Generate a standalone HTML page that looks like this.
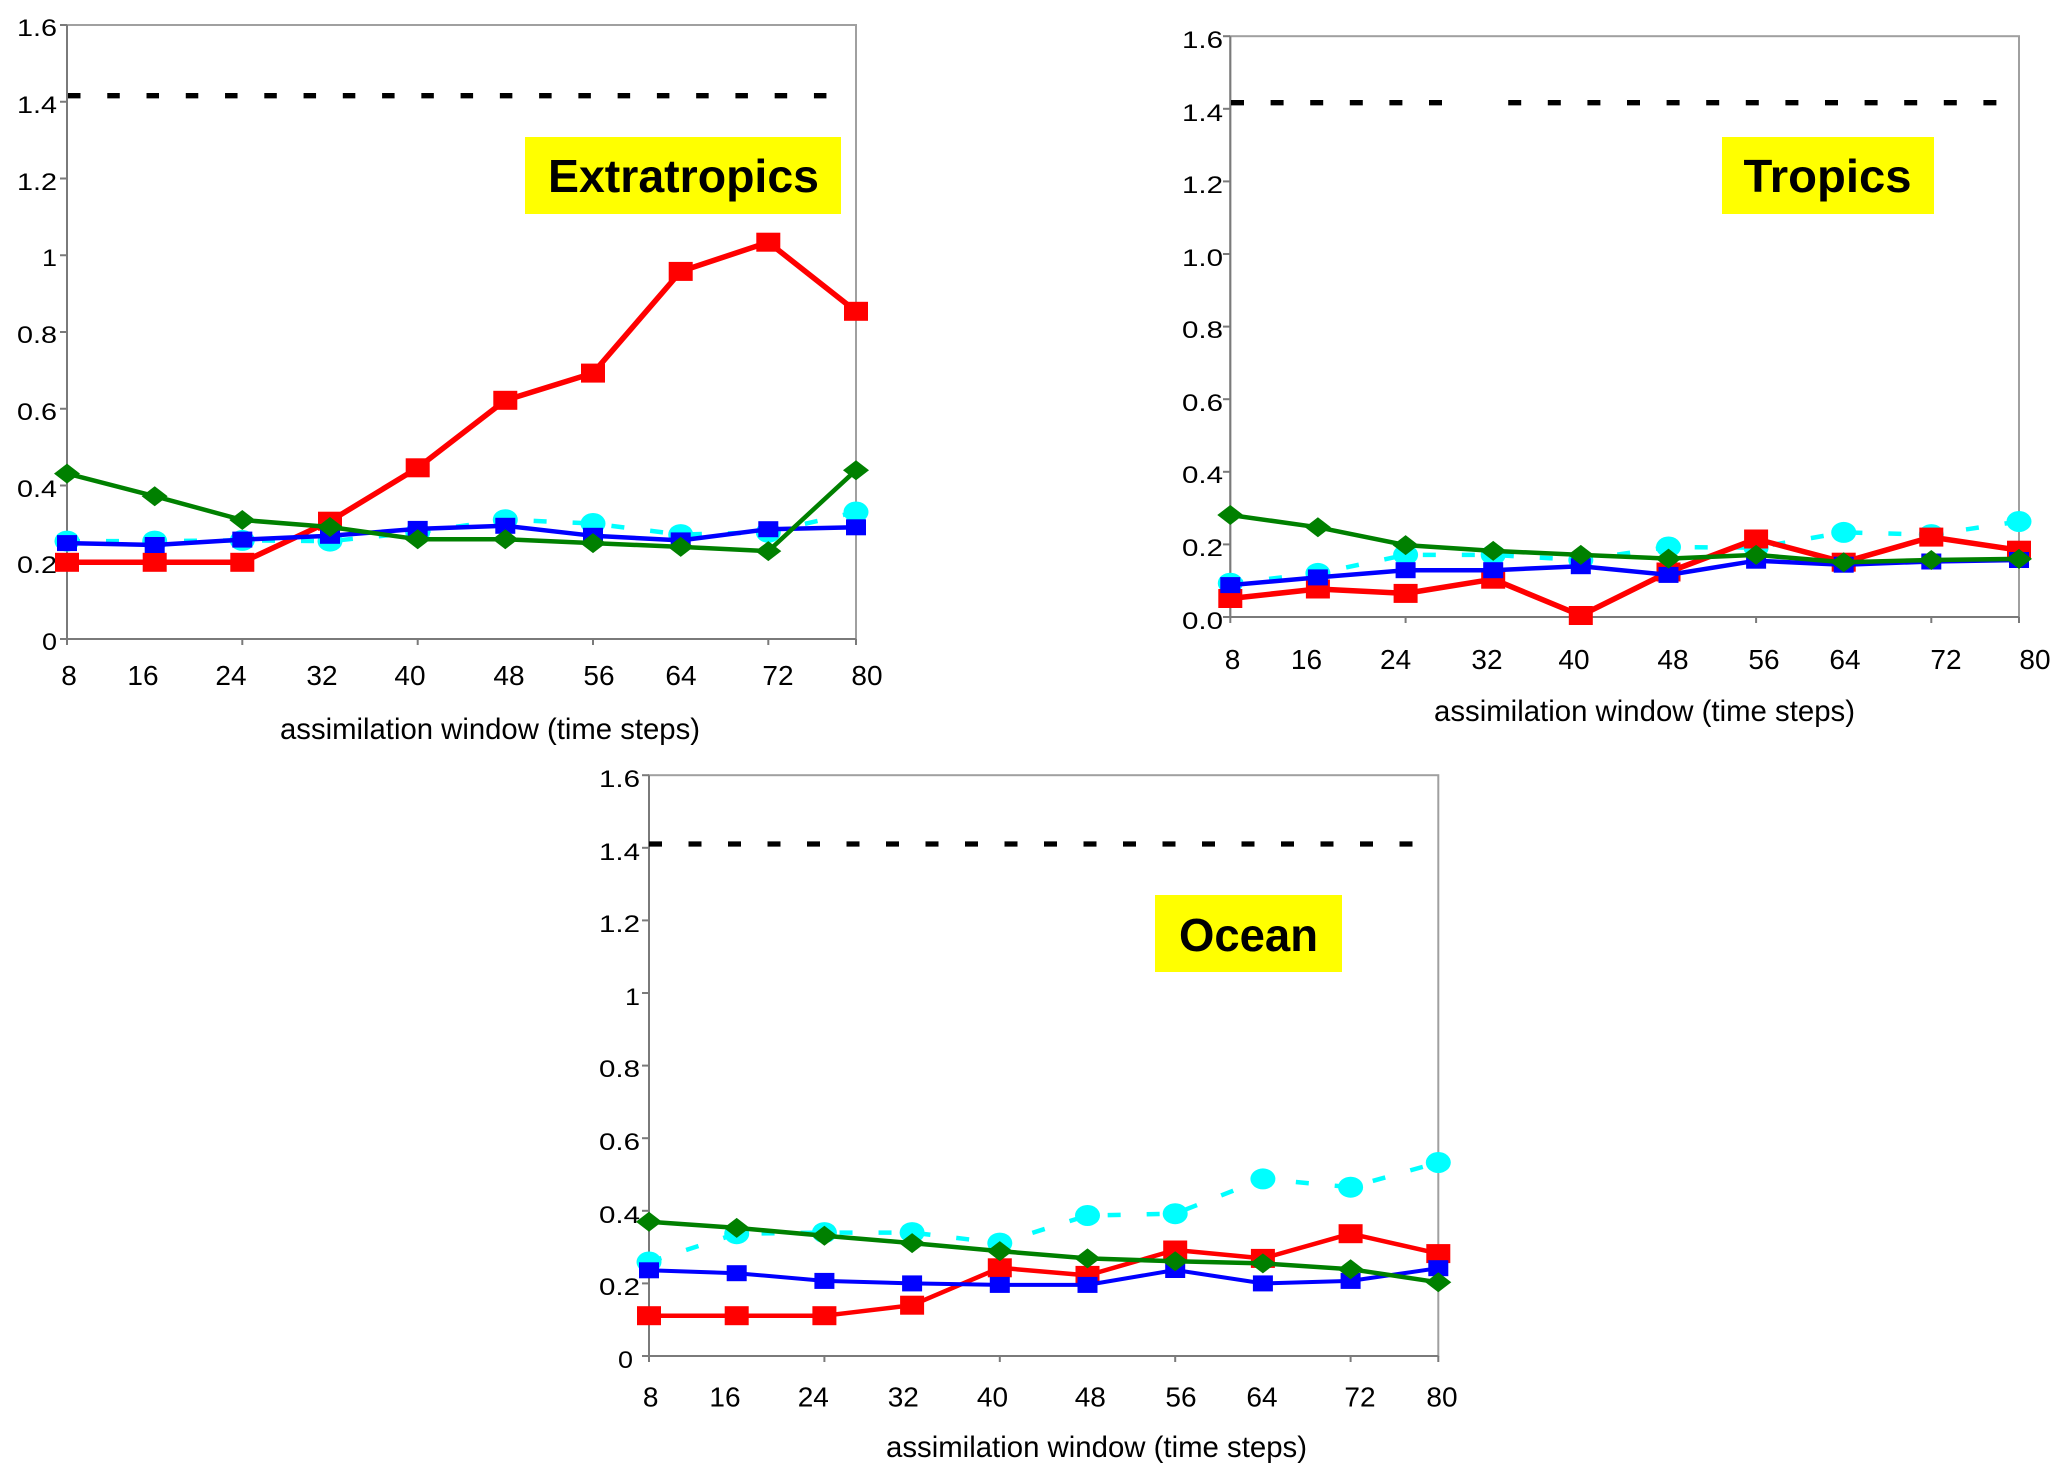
<!DOCTYPE html>
<html><head><meta charset="utf-8"><style>
html,body{margin:0;padding:0;background:#fff;}
svg{display:block;}
text{font-family:"Liberation Sans",Arial,sans-serif;fill:#000;}
</style></head><body>
<svg width="2067" height="1482" viewBox="0 0 2067 1482" xmlns="http://www.w3.org/2000/svg">
<defs>
<rect id="rs" x="-12" y="-9.5" width="24" height="19" fill="#ff0000"/>
<rect id="bs" x="-10" y="-8" width="20" height="16" fill="#0000ff"/>
<polygon id="gd" points="0,-10 13,0 0,10 -13,0" fill="#008000"/>
<ellipse id="cc" rx="12.5" ry="10.5" fill="#00ffff"/>
</defs>
<rect width="2067" height="1482" fill="#fff"/>

<!-- ================= PANEL 1: Extratropics ================= -->
<g>
<rect x="67" y="25" width="789" height="614" fill="none" stroke="#a0a0a0" stroke-width="2"/>
<line x1="67" y1="25" x2="67" y2="639" stroke="#7a7a7a" stroke-width="2"/>
<line x1="67" y1="639" x2="856" y2="639" stroke="#7a7a7a" stroke-width="2"/>
<g stroke="#7a7a7a" stroke-width="2">
<line x1="60" y1="25" x2="67" y2="25"/><line x1="60" y1="101.75" x2="67" y2="101.75"/><line x1="60" y1="178.5" x2="67" y2="178.5"/><line x1="60" y1="255.25" x2="67" y2="255.25"/><line x1="60" y1="332" x2="67" y2="332"/><line x1="60" y1="408.75" x2="67" y2="408.75"/><line x1="60" y1="485.5" x2="67" y2="485.5"/><line x1="60" y1="562.25" x2="67" y2="562.25"/><line x1="60" y1="639" x2="67" y2="639"/>
<line x1="67" y1="639" x2="67" y2="645"/><line x1="242.3" y1="639" x2="242.3" y2="645"/><line x1="417.7" y1="639" x2="417.7" y2="645"/><line x1="593" y1="639" x2="593" y2="645"/><line x1="768.3" y1="639" x2="768.3" y2="645"/><line x1="856" y1="639" x2="856" y2="645"/>
</g>
<g font-size="24">
<text x="17" y="36" textLength="40" lengthAdjust="spacingAndGlyphs">1.6</text>
<text x="17" y="113" textLength="40" lengthAdjust="spacingAndGlyphs">1.4</text>
<text x="17" y="190" textLength="40" lengthAdjust="spacingAndGlyphs">1.2</text>
<text x="42" y="266" textLength="15" lengthAdjust="spacingAndGlyphs">1</text>
<text x="17" y="343" textLength="40" lengthAdjust="spacingAndGlyphs">0.8</text>
<text x="17" y="420" textLength="40" lengthAdjust="spacingAndGlyphs">0.6</text>
<text x="17" y="497" textLength="40" lengthAdjust="spacingAndGlyphs">0.4</text>
<text x="17" y="573" textLength="40" lengthAdjust="spacingAndGlyphs">0.2</text>
<text x="42" y="650" textLength="15" lengthAdjust="spacingAndGlyphs">0</text>
</g>
<g font-size="28" text-anchor="middle">
<text x="69" y="685">8</text><text x="143" y="685">16</text><text x="231" y="685">24</text><text x="322" y="685">32</text><text x="410" y="685">40</text><text x="509" y="685">48</text><text x="599" y="685">56</text><text x="681" y="685">64</text><text x="778" y="685">72</text><text x="867" y="685">80</text>
</g>
<text x="280" y="739" font-size="30" textLength="420" lengthAdjust="spacingAndGlyphs">assimilation window (time steps)</text>
<line x1="68" y1="95.7" x2="832" y2="95.7" stroke="#000" stroke-width="5.3" stroke-dasharray="12.5 26.76"/>
<rect x="525" y="137" width="316" height="77" fill="#ffff00"/>
<text x="548" y="192" font-size="46" font-weight="bold" textLength="271" lengthAdjust="spacingAndGlyphs">Extratropics</text>

<polyline fill="none" stroke="#00ffff" stroke-width="4.5" stroke-dasharray="13 26" points="67,541.1 154.7,541.1 242.3,540.4 330,541.1 417.7,532.3 505.3,519.7 593,523.5 680.7,534.6 768.3,532.3 856,512"/>
<use href="#cc" x="67" y="541.1"/><use href="#cc" x="154.7" y="541.1"/><use href="#cc" x="242.3" y="540.4"/><use href="#cc" x="330" y="541.1"/><use href="#cc" x="417.7" y="532.3"/><use href="#cc" x="505.3" y="519.7"/><use href="#cc" x="593" y="523.5"/><use href="#cc" x="680.7" y="534.6"/><use href="#cc" x="768.3" y="532.3"/><use href="#cc" x="856" y="512"/>

<polyline fill="none" stroke="#ff0000" stroke-width="5.5" stroke-linejoin="round" points="67,562.3 154.7,562.3 242.3,562.3 330,521.2 417.7,467.8 505.3,400.3 593,373.1 680.7,271.4 768.3,242.2 856,311.3"/>
<use href="#rs" x="67" y="562.3"/><use href="#rs" x="154.7" y="562.3"/><use href="#rs" x="242.3" y="562.3"/><use href="#rs" x="330" y="521.2"/><use href="#rs" x="417.7" y="467.8"/><use href="#rs" x="505.3" y="400.3"/><use href="#rs" x="593" y="373.1"/><use href="#rs" x="680.7" y="271.4"/><use href="#rs" x="768.3" y="242.2"/><use href="#rs" x="856" y="311.3"/>

<polyline fill="none" stroke="#0000ff" stroke-width="4.5" stroke-linejoin="round" points="67,543.1 154.7,545 242.3,539.6 330,535.8 417.7,528.9 505.3,525.8 593,535.8 680.7,540.4 768.3,529.2 856,527.3"/>
<use href="#bs" x="67" y="543.1"/><use href="#bs" x="154.7" y="545"/><use href="#bs" x="242.3" y="539.6"/><use href="#bs" x="330" y="535.8"/><use href="#bs" x="417.7" y="528.9"/><use href="#bs" x="505.3" y="525.8"/><use href="#bs" x="593" y="535.8"/><use href="#bs" x="680.7" y="540.4"/><use href="#bs" x="768.3" y="529.2"/><use href="#bs" x="856" y="527.3"/>

<polyline fill="none" stroke="#008000" stroke-width="4.5" stroke-linejoin="round" points="67,473.6 154.7,496.2 242.3,520 330,527 417.7,539.2 505.3,539.2 593,543.1 680.7,546.9 768.3,551.1 856,470.2"/>
<use href="#gd" x="67" y="473.6"/><use href="#gd" x="154.7" y="496.2"/><use href="#gd" x="242.3" y="520"/><use href="#gd" x="330" y="527"/><use href="#gd" x="417.7" y="539.2"/><use href="#gd" x="505.3" y="539.2"/><use href="#gd" x="593" y="543.1"/><use href="#gd" x="680.7" y="546.9"/><use href="#gd" x="768.3" y="551.1"/><use href="#gd" x="856" y="470.2"/>
</g>

<!-- ================= PANEL 2: Tropics ================= -->
<g>
<rect x="1230.3" y="36.2" width="788.7" height="580.8" fill="none" stroke="#a0a0a0" stroke-width="2"/>
<line x1="1230.3" y1="36.2" x2="1230.3" y2="617" stroke="#7a7a7a" stroke-width="2"/>
<line x1="1230.3" y1="617" x2="2019" y2="617" stroke="#7a7a7a" stroke-width="2"/>
<g stroke="#7a7a7a" stroke-width="2">
<line x1="1223" y1="36.2" x2="1230" y2="36.2"/><line x1="1223" y1="108.8" x2="1230" y2="108.8"/><line x1="1223" y1="181.4" x2="1230" y2="181.4"/><line x1="1223" y1="254" x2="1230" y2="254"/><line x1="1223" y1="326.6" x2="1230" y2="326.6"/><line x1="1223" y1="399.2" x2="1230" y2="399.2"/><line x1="1223" y1="471.8" x2="1230" y2="471.8"/><line x1="1223" y1="544.4" x2="1230" y2="544.4"/><line x1="1223" y1="617" x2="1230" y2="617"/>
<line x1="1230.3" y1="617" x2="1230.3" y2="623"/><line x1="1405.6" y1="617" x2="1405.6" y2="623"/><line x1="1580.8" y1="617" x2="1580.8" y2="623"/><line x1="1756.1" y1="617" x2="1756.1" y2="623"/><line x1="1931.3" y1="617" x2="1931.3" y2="623"/><line x1="2019" y1="617" x2="2019" y2="623"/>
</g>
<g font-size="24">
<text x="1182" y="48" textLength="41" lengthAdjust="spacingAndGlyphs">1.6</text>
<text x="1182" y="121" textLength="41" lengthAdjust="spacingAndGlyphs">1.4</text>
<text x="1182" y="193" textLength="41" lengthAdjust="spacingAndGlyphs">1.2</text>
<text x="1182" y="266" textLength="41" lengthAdjust="spacingAndGlyphs">1.0</text>
<text x="1182" y="338" textLength="41" lengthAdjust="spacingAndGlyphs">0.8</text>
<text x="1182" y="411" textLength="41" lengthAdjust="spacingAndGlyphs">0.6</text>
<text x="1182" y="483" textLength="41" lengthAdjust="spacingAndGlyphs">0.4</text>
<text x="1182" y="556" textLength="41" lengthAdjust="spacingAndGlyphs">0.2</text>
<text x="1182" y="629" textLength="41" lengthAdjust="spacingAndGlyphs">0.0</text>
</g>
<g font-size="28" text-anchor="middle">
<text x="1232.5" y="669">8</text><text x="1306.5" y="669">16</text><text x="1395.6" y="669">24</text><text x="1487" y="669">32</text><text x="1574" y="669">40</text><text x="1673" y="669">48</text><text x="1764" y="669">56</text><text x="1845" y="669">64</text><text x="1946" y="669">72</text><text x="2035" y="669">80</text>
</g>
<text x="1434" y="721" font-size="30" textLength="421" lengthAdjust="spacingAndGlyphs">assimilation window (time steps)</text>
<line x1="1231" y1="102.7" x2="1450" y2="102.7" stroke="#000" stroke-width="5.3" stroke-dasharray="13 26.6"/>
<line x1="1508.2" y1="102.7" x2="1998" y2="102.7" stroke="#000" stroke-width="5.3" stroke-dasharray="13 26.6"/>
<rect x="1722" y="137" width="212" height="77" fill="#ffff00"/>
<text x="1743.5" y="192" font-size="46" font-weight="bold" textLength="168" lengthAdjust="spacingAndGlyphs">Tropics</text>

<polyline fill="none" stroke="#00ffff" stroke-width="4.5" stroke-dasharray="13 26" points="1230.3,583.2 1317.9,573.4 1405.6,554.9 1493.2,554.9 1580.8,560 1668.5,547 1756.1,547.7 1843.7,532.4 1931.3,534.6 2019,521.5"/>
<use href="#cc" x="1230.3" y="583.2"/><use href="#cc" x="1317.9" y="573.4"/><use href="#cc" x="1405.6" y="554.9"/><use href="#cc" x="1493.2" y="554.9"/><use href="#cc" x="1580.8" y="560"/><use href="#cc" x="1668.5" y="547"/><use href="#cc" x="1756.1" y="547.7"/><use href="#cc" x="1843.7" y="532.4"/><use href="#cc" x="1931.3" y="534.6"/><use href="#cc" x="2019" y="521.5"/>

<polyline fill="none" stroke="#ff0000" stroke-width="5.5" stroke-linejoin="round" points="1230.3,598.5 1317.9,589 1405.6,593.4 1493.2,579.2 1580.8,615.5 1668.5,572 1756.1,539 1843.7,562.2 1931.3,537.1 2019,550.2"/>
<use href="#rs" x="1230.3" y="598.5"/><use href="#rs" x="1317.9" y="589"/><use href="#rs" x="1405.6" y="593.4"/><use href="#rs" x="1493.2" y="579.2"/><use href="#rs" x="1580.8" y="615.5"/><use href="#rs" x="1668.5" y="572"/><use href="#rs" x="1756.1" y="539"/><use href="#rs" x="1843.7" y="562.2"/><use href="#rs" x="1931.3" y="537.1"/><use href="#rs" x="2019" y="550.2"/>

<polyline fill="none" stroke="#0000ff" stroke-width="4.5" stroke-linejoin="round" points="1230.3,585.1 1317.9,577.4 1405.6,570.2 1493.2,570.2 1580.8,566.2 1668.5,574.9 1756.1,560.7 1843.7,564.7 1931.3,561.5 2019,560"/>
<use href="#bs" x="1230.3" y="585.1"/><use href="#bs" x="1317.9" y="577.4"/><use href="#bs" x="1405.6" y="570.2"/><use href="#bs" x="1493.2" y="570.2"/><use href="#bs" x="1580.8" y="566.2"/><use href="#bs" x="1668.5" y="574.9"/><use href="#bs" x="1756.1" y="560.7"/><use href="#bs" x="1843.7" y="564.7"/><use href="#bs" x="1931.3" y="561.5"/><use href="#bs" x="2019" y="560"/>

<polyline fill="none" stroke="#008000" stroke-width="4.5" stroke-linejoin="round" points="1230.3,515 1317.9,527.3 1405.6,545.1 1493.2,550.9 1580.8,554.9 1668.5,558.6 1756.1,554.9 1843.7,562.2 1931.3,560 2019,558.9"/>
<use href="#gd" x="1230.3" y="515"/><use href="#gd" x="1317.9" y="527.3"/><use href="#gd" x="1405.6" y="545.1"/><use href="#gd" x="1493.2" y="550.9"/><use href="#gd" x="1580.8" y="554.9"/><use href="#gd" x="1668.5" y="558.6"/><use href="#gd" x="1756.1" y="554.9"/><use href="#gd" x="1843.7" y="562.2"/><use href="#gd" x="1931.3" y="560"/><use href="#gd" x="2019" y="558.9"/>
</g>

<!-- ================= PANEL 3: Ocean ================= -->
<g>
<rect x="649" y="775.2" width="789.3" height="580.8" fill="none" stroke="#a0a0a0" stroke-width="2"/>
<line x1="649" y1="775.2" x2="649" y2="1356" stroke="#7a7a7a" stroke-width="2"/>
<line x1="649" y1="1356" x2="1438.3" y2="1356" stroke="#7a7a7a" stroke-width="2"/>
<g stroke="#7a7a7a" stroke-width="2">
<line x1="642" y1="775.2" x2="649" y2="775.2"/><line x1="642" y1="847.8" x2="649" y2="847.8"/><line x1="642" y1="920.4" x2="649" y2="920.4"/><line x1="642" y1="993" x2="649" y2="993"/><line x1="642" y1="1065.6" x2="649" y2="1065.6"/><line x1="642" y1="1138.2" x2="649" y2="1138.2"/><line x1="642" y1="1210.8" x2="649" y2="1210.8"/><line x1="642" y1="1283.4" x2="649" y2="1283.4"/><line x1="642" y1="1356" x2="649" y2="1356"/>
<line x1="649" y1="1356" x2="649" y2="1362"/><line x1="824.4" y1="1356" x2="824.4" y2="1362"/><line x1="999.8" y1="1356" x2="999.8" y2="1362"/><line x1="1175.2" y1="1356" x2="1175.2" y2="1362"/><line x1="1350.6" y1="1356" x2="1350.6" y2="1362"/><line x1="1438.3" y1="1356" x2="1438.3" y2="1362"/>
</g>
<g font-size="24">
<text x="599" y="787" textLength="41" lengthAdjust="spacingAndGlyphs">1.6</text>
<text x="599" y="860" textLength="41" lengthAdjust="spacingAndGlyphs">1.4</text>
<text x="599" y="932" textLength="41" lengthAdjust="spacingAndGlyphs">1.2</text>
<text x="625" y="1005" textLength="15" lengthAdjust="spacingAndGlyphs">1</text>
<text x="599" y="1077" textLength="41" lengthAdjust="spacingAndGlyphs">0.8</text>
<text x="599" y="1150" textLength="41" lengthAdjust="spacingAndGlyphs">0.6</text>
<text x="599" y="1223" textLength="41" lengthAdjust="spacingAndGlyphs">0.4</text>
<text x="599" y="1295" textLength="41" lengthAdjust="spacingAndGlyphs">0.2</text>
<text x="618" y="1368" textLength="15" lengthAdjust="spacingAndGlyphs">0</text>
</g>
<g font-size="28" text-anchor="middle">
<text x="650.7" y="1406.5">8</text><text x="725" y="1406.5">16</text><text x="813.3" y="1406.5">24</text><text x="903.3" y="1406.5">32</text><text x="992.5" y="1406.5">40</text><text x="1090.3" y="1406.5">48</text><text x="1181" y="1406.5">56</text><text x="1262" y="1406.5">64</text><text x="1360" y="1406.5">72</text><text x="1442" y="1406.5">80</text>
</g>
<text x="886" y="1457" font-size="30" textLength="421" lengthAdjust="spacingAndGlyphs">assimilation window (time steps)</text>
<line x1="649" y1="844" x2="1415" y2="844" stroke="#000" stroke-width="5.3" stroke-dasharray="13 26.5"/>
<rect x="1155" y="895" width="187" height="77" fill="#ffff00"/>
<text x="1179" y="951" font-size="46" font-weight="bold" textLength="139" lengthAdjust="spacingAndGlyphs">Ocean</text>

<polyline fill="none" stroke="#00ffff" stroke-width="4.5" stroke-dasharray="13 26" points="649,1262 736.7,1233.7 824.4,1232.6 912.1,1232.6 999.8,1243.1 1087.5,1215.5 1175.2,1213.7 1262.9,1178.9 1350.6,1187.2 1438.3,1162.5"/>
<use href="#cc" x="649" y="1262"/><use href="#cc" x="736.7" y="1233.7"/><use href="#cc" x="824.4" y="1232.6"/><use href="#cc" x="912.1" y="1232.6"/><use href="#cc" x="999.8" y="1243.1"/><use href="#cc" x="1087.5" y="1215.5"/><use href="#cc" x="1175.2" y="1213.7"/><use href="#cc" x="1262.9" y="1178.9"/><use href="#cc" x="1350.6" y="1187.2"/><use href="#cc" x="1438.3" y="1162.5"/>

<polyline fill="none" stroke="#ff0000" stroke-width="4.5" stroke-linejoin="round" points="649,1315.7 736.7,1315.7 824.4,1315.7 912.1,1305.2 999.8,1267.8 1087.5,1275.4 1175.2,1250 1262.9,1258.4 1350.6,1233.7 1438.3,1253.6"/>
<use href="#rs" x="649" y="1315.7"/><use href="#rs" x="736.7" y="1315.7"/><use href="#rs" x="824.4" y="1315.7"/><use href="#rs" x="912.1" y="1305.2"/><use href="#rs" x="999.8" y="1267.8"/><use href="#rs" x="1087.5" y="1275.4"/><use href="#rs" x="1175.2" y="1250"/><use href="#rs" x="1262.9" y="1258.4"/><use href="#rs" x="1350.6" y="1233.7"/><use href="#rs" x="1438.3" y="1253.6"/>

<polyline fill="none" stroke="#0000ff" stroke-width="4" stroke-linejoin="round" points="649,1270.3 736.7,1273.2 824.4,1280.9 912.1,1283.4 999.8,1284.9 1087.5,1284.9 1175.2,1270 1262.9,1283.4 1350.6,1280.9 1438.3,1268.2"/>
<use href="#bs" x="649" y="1270.3"/><use href="#bs" x="736.7" y="1273.2"/><use href="#bs" x="824.4" y="1280.9"/><use href="#bs" x="912.1" y="1283.4"/><use href="#bs" x="999.8" y="1284.9"/><use href="#bs" x="1087.5" y="1284.9"/><use href="#bs" x="1175.2" y="1270"/><use href="#bs" x="1262.9" y="1283.4"/><use href="#bs" x="1350.6" y="1280.9"/><use href="#bs" x="1438.3" y="1268.2"/>

<polyline fill="none" stroke="#008000" stroke-width="4.5" stroke-linejoin="round" points="649,1221.7 736.7,1227.9 824.4,1235.8 912.1,1243.1 999.8,1251.1 1087.5,1258.4 1175.2,1261.3 1262.9,1263.4 1350.6,1269.2 1438.3,1282.3"/>
<use href="#gd" x="649" y="1221.7"/><use href="#gd" x="736.7" y="1227.9"/><use href="#gd" x="824.4" y="1235.8"/><use href="#gd" x="912.1" y="1243.1"/><use href="#gd" x="999.8" y="1251.1"/><use href="#gd" x="1087.5" y="1258.4"/><use href="#gd" x="1175.2" y="1261.3"/><use href="#gd" x="1262.9" y="1263.4"/><use href="#gd" x="1350.6" y="1269.2"/><use href="#gd" x="1438.3" y="1282.3"/>
</g>
</svg>
</body></html>
